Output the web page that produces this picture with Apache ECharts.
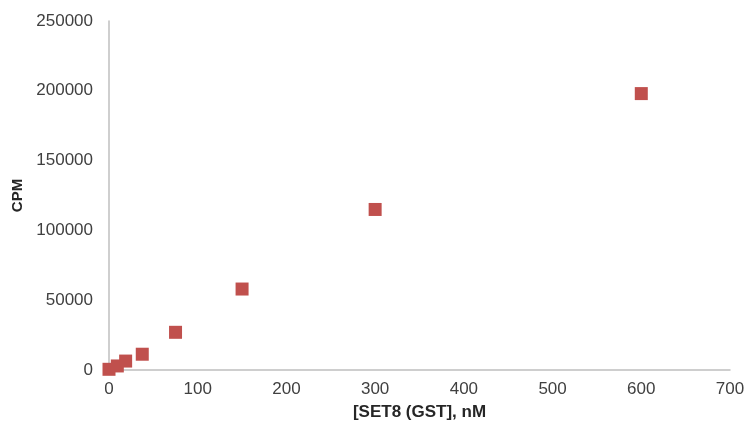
<!DOCTYPE html>
<html>
<head>
<meta charset="utf-8">
<script src="https://cdn.jsdelivr.net/npm/echarts@6/dist/echarts.min.js"></script>
<style>
  html, body { margin: 0; padding: 0; background: #fff; }
  #chart { width: 756px; height: 424px; }
</style>
</head>
<body>
<div id="chart"></div>
<script>
// SET8 (GST) concentration, nM
const concentrations = [0, 9.375, 18.75, 37.5, 75, 150, 300, 600]
// counts per minute
const cpmValues = [500, 2900, 6400, 11300, 27000, 58000, 115000, 198000]

const chart = echarts.init(document.getElementById('chart'))

const font = 'Liberation Sans, Arial, sans-serif'
const axisText = { color: '#404040', fontSize: 17, fontFamily: font }

chart.setOption({
  animation: false,
  grid: { left: 109, right: 26, top: 21, bottom: 54, outerBoundsMode: 'none' },
  xAxis: {
    type: 'value',
    min: 0,
    max: 700,
    interval: 100,
    name: '[SET8 (GST], nM',
    nameLocation: 'middle',
    nameGap: 34,
    nameTextStyle: { color: '#262626', fontSize: 17, fontWeight: 'bold', fontFamily: font },
    axisLine: { show: true, lineStyle: { color: '#bfbfbf', width: 1.5 } },
    axisTick: { show: false },
    splitLine: { show: false },
    axisLabel: Object.assign({ margin: 11, formatter: v => String(v) }, axisText)
  },
  yAxis: {
    type: 'value',
    min: 0,
    max: 250000,
    interval: 50000,
    name: 'CPM',
    nameLocation: 'middle',
    nameGap: 79,
    nameTextStyle: { color: '#262626', fontSize: 15, fontWeight: 'bold', fontFamily: font },
    axisLine: { show: true, lineStyle: { color: '#bfbfbf', width: 1.5 } },
    axisTick: { show: false },
    splitLine: { show: false },
    axisLabel: Object.assign({ margin: 16, formatter: v => String(v) }, axisText)
  },
  series: [{
    type: 'scatter',
    symbol: 'rect',
    symbolSize: 13,
    itemStyle: { color: '#c0504d', opacity: 1 },
    data: concentrations.map((c, i) => [c, cpmValues[i]])
  }]
})
</script>
</body>
</html>
